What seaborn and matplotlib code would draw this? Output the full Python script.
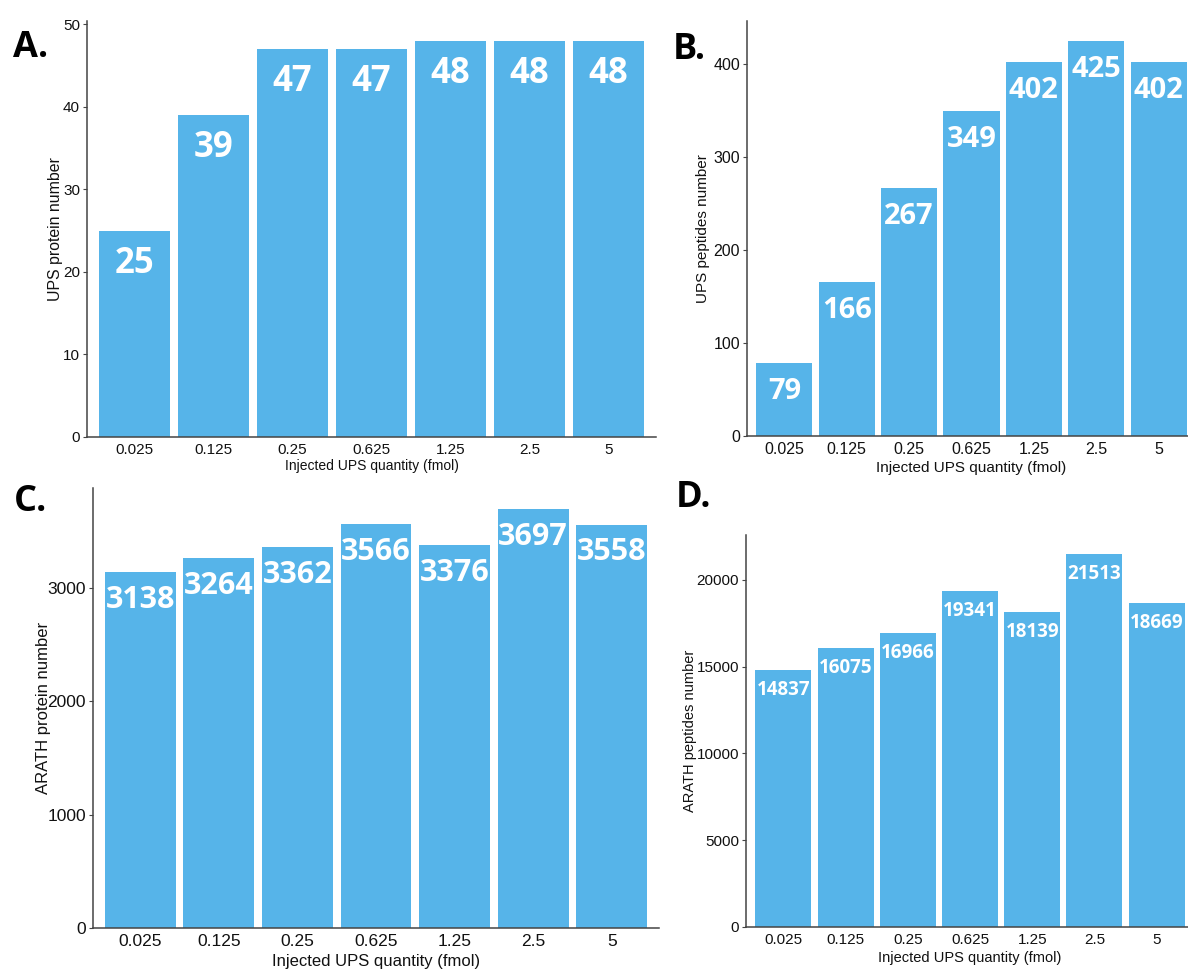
import numpy as np
import pandas as pd
import matplotlib
matplotlib.use("Agg")
import matplotlib.pyplot as plt
import seaborn as sns

# data
QUANTITIES = ["0.025", "0.125", "0.25", "0.625", "1.25", "2.5", "5"]
UPS_PROTEINS = [25, 39, 47, 47, 48, 48, 48]
UPS_PEPTIDES = [79, 166, 267, 349, 402, 425, 402]
ARATH_PROTEINS = [3138, 3264, 3362, 3566, 3376, 3697, 3558]
ARATH_PEPTIDES = [14837, 16075, 16966, 19341, 18139, 21513, 18669]

X_LABEL = "Injected UPS quantity (fmol)"
BAR_COLOR = "#56B4E9"
AXIS_COLOR = "#444444"

W, H = 1188, 969

sns.set_theme(style="white")
plt.rcParams["font.family"] = ["Liberation Sans", "DejaVu Sans"]


def px_box(left, right, top, bottom):
    return [left / W, 1 - bottom / H, (right - left) / W, (bottom - top) / H]


def draw_panel(fig, box, values, ylabel, yticks, tick_fs, xlab_fs, ylab_fs,
               val_fs, val_off, ylabelpad, xlabelpad):
    ax = fig.add_axes(box)
    df = pd.DataFrame({"qty": QUANTITIES, "n": values})
    sns.barplot(data=df, x="qty", y="n", order=QUANTITIES, color=BAR_COLOR,
                saturation=1, width=0.9, linewidth=0, ax=ax)
    ax.set_xlim(-0.6, len(QUANTITIES) - 0.4)
    ax.set_ylim(0, max(values) * 1.05)
    ax.set_yticks(yticks)
    ax.set_yticklabels([str(t) for t in yticks])

    for i, v in enumerate(values):
        ax.annotate(str(v), xy=(i, v), xytext=(0, -val_off), textcoords="offset points",
                    ha="center", va="center", color="white", fontsize=val_fs,
                    fontweight="bold", family="Open Sans")

    for side in ["top", "right"]:
        ax.spines[side].set_visible(False)
    for side in ["left", "bottom"]:
        ax.spines[side].set_color(AXIS_COLOR)
        ax.spines[side].set_linewidth(1.1)
    ax.tick_params(axis="both", which="major", length=3, width=0.8, color=AXIS_COLOR,
                   labelsize=tick_fs, labelcolor="#111111", pad=2, bottom=True, left=True)
    ax.tick_params(axis="x", length=0, pad=4)
    ax.set_xlabel(X_LABEL, fontsize=xlab_fs, color="#111111", labelpad=xlabelpad)
    ax.set_ylabel(ylabel, fontsize=ylab_fs, color="#111111", labelpad=ylabelpad)
    ax.grid(False)
    return ax


fig = plt.figure(figsize=(W / 100, H / 100), dpi=100)

draw_panel(fig, px_box(87, 656, 21, 437), UPS_PROTEINS, "UPS protein number",
           [0, 10, 20, 30, 40, 50], 11, 10, 11.4, 25, 24, 0, 2)
draw_panel(fig, px_box(747, 1196, 21, 436), UPS_PEPTIDES, "UPS peptides number",
           [0, 100, 200, 300, 400], 11.5, 11, 11, 21, 20.5, 2.5, 3)
draw_panel(fig, px_box(93, 659, 488, 928), ARATH_PROTEINS, "ARATH protein number",
           [0, 1000, 2000, 3000], 12.5, 12, 12, 22, 20, -2.5, 4)
draw_panel(fig, px_box(746, 1194, 535, 927), ARATH_PEPTIDES, "ARATH peptides number",
           [0, 5000, 10000, 15000, 20000], 11, 10.5, 10.5, 13.5, 14.5, 0, 3)

for letter, x, y in [("A.", 13, 48), ("B.", 673, 50), ("C.", 14, 502), ("D.", 676, 498)]:
    fig.text(x / W, 1 - y / H, letter, ha="left", va="center", fontsize=26,
             fontweight="bold", family="Open Sans", color="black")

fig.savefig("out.png", dpi=100)
plt.close(fig)
